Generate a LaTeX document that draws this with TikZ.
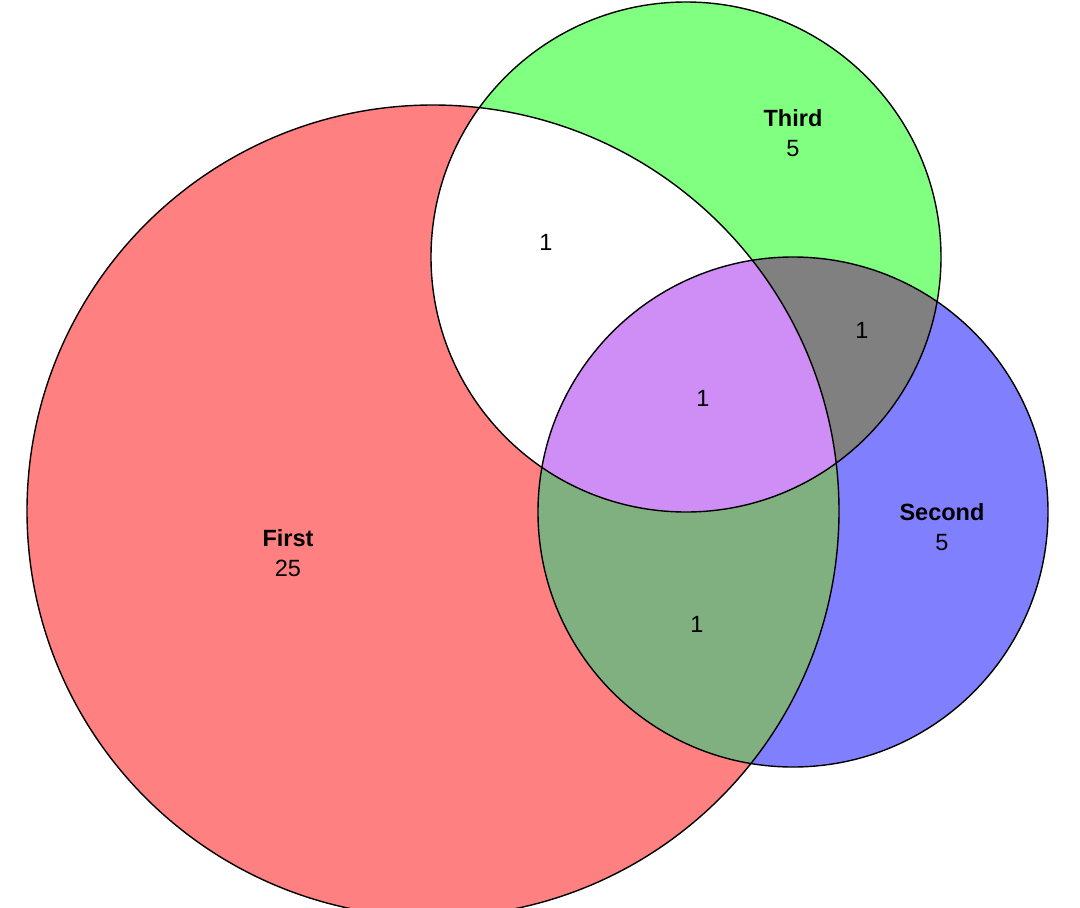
\documentclass[tikz,border=0pt]{standalone}
\usepackage{fontspec}
\setmainfont{Liberation Sans}
\definecolor{cfirst}{HTML}{FF8080}
\definecolor{cthird}{HTML}{80FF80}
\definecolor{csecond}{HTML}{8080FF}
\definecolor{cft}{HTML}{FFFFFF}
\definecolor{cfs}{HTML}{80B080}
\definecolor{cts}{HTML}{808080}
\definecolor{call}{HTML}{CE8EF6}
\begin{document}
\begin{tikzpicture}[x=1pt,y=-1pt,
  lbl/.style={font=\fontsize{23.5}{30}\selectfont, align=center, inner sep=0pt},
  num/.style={font=\fontsize{23.5}{28}\selectfont, inner sep=0pt},
  outline/.style={draw=black, line width=1.4pt}]
\useasboundingbox (0,0) rectangle (1080,908);
\def\pfirst{(433,511) circle[radius=406pt]}
\def\pthird{(686,257) circle[radius=255pt]}
\def\psecond{(793,512) circle[radius=255pt]}
% base fills
\fill[cfirst] \pfirst;
\fill[cthird] \pthird;
\fill[csecond] \psecond;
% pairwise overlaps
\begin{scope}
  \clip \pfirst;
  \fill[cft] \pthird;
\end{scope}
\begin{scope}
  \clip \pfirst;
  \fill[cfs] \psecond;
\end{scope}
\begin{scope}
  \clip \pthird;
  \fill[cts] \psecond;
\end{scope}
\begin{scope}
  \clip \pfirst;
  \clip \pthird;
  \fill[call] \psecond;
\end{scope}
% outlines
\draw[outline] \pfirst;
\draw[outline] \pthird;
\draw[outline] \psecond;
% labels
\node[lbl] (lthird) at (793,133) {\textbf{Third}\\5};
\node[lbl] (lsecond) at (942,527) {\textbf{Second}\\5};
\node[lbl] (lfirst) at (288,553) {\textbf{First}\\25};
\node[num] (nft) at (546,242) {1};
\node[num] (nts) at (862,330) {1};
\node[num] (nall) at (703,398) {1};
\node[num] (nfs) at (697,624) {1};
\end{tikzpicture}
\end{document}
